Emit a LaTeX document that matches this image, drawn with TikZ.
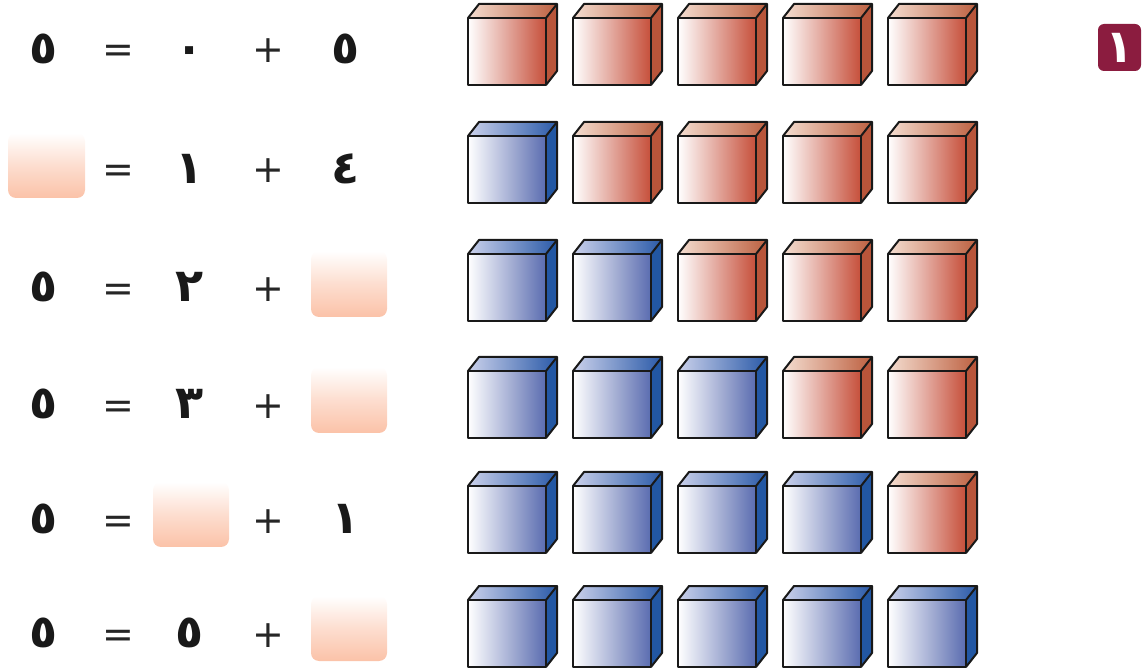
\documentclass[tikz,border=0pt]{standalone}
\usepackage{fontspec}
\newfontfamily\arabicfont[Script=Arabic]{DejaVu Sans}
\usetikzlibrary{positioning}

\definecolor{redfront}{HTML}{C64F3A}
\definecolor{redtopL}{HTML}{F4DDD0}
\definecolor{redtopR}{HTML}{BD6040}
\definecolor{redside}{HTML}{B8553A}
\definecolor{bluefront}{HTML}{5A6CB0}
\definecolor{bluetopL}{HTML}{CBD1EB}
\definecolor{bluetopR}{HTML}{2A5AA8}
\definecolor{blueside}{HTML}{2257A3}
\definecolor{peach}{HTML}{FBC2A8}
\definecolor{badgered}{HTML}{8B1C3F}

\tikzset{
  num/.style={font=\arabicfont\bfseries\fontsize{23}{27}\selectfont, text=black!90, anchor=base},
  op/.style={font=\arabicfont\fontsize{19}{22}\selectfont, text=black!85, anchor=base},
  blank/.style={rounded corners=4pt, top color=white, bottom color=peach, middle color=peach!55},
  edge/.style={line width=1pt, line join=round, black!90}
}

% cube: front-left x, front-top y, colour prefix
\newcommand{\cubeat}[3]{%
  \shade[left color=#3topL, right color=#3topR] (#1,#2) -- ++(11,-14) -- ++(78,0) -- ++(-11,14) -- cycle;
  \fill[#3side] (#1+78,#2) -- ++(11,-14) -- ++(0,67) -- ++(-11,14) -- cycle;
  \shade[left color=white, right color=#3front] (#1,#2) rectangle ++(78,67);
  \draw[edge] (#1,#2) rectangle ++(78,67);
  \draw[edge] (#1,#2) -- ++(11,-14) -- ++(78,0) -- ++(-11,14);
  \draw[edge] (#1+89,#2-14) -- ++(0,67) -- ++(-11,14);
}

\begin{document}
\begin{tikzpicture}[x=0.5pt,y=-0.5pt]
\useasboundingbox (0,0) rectangle (1142,668);

% Cubes
\foreach \ty/\nb in {18/0,136/1,254/2,371/3,486/4,600/5}{
  \foreach \c/\cx in {1/468,2/573,3/678,4/783,5/888}{
    \ifnum\c>\nb \def\col{red}\else\def\col{blue}\fi
    \cubeat{\cx}{\ty}{\col}
  }
}

% Row 1
\node[num] (a1) at (44,64) {٥};
\node[op] (e1) at (118,63) {=};
\node[num] (b1) at (190,64) {٠};
\node[op] (p1) at (268,63) {+};
\node[num] (c1) at (346,64) {٥};

% Row 2
\shade[blank] (8,133) rectangle (85,198);
\node (a2) at (46,165) {};
\node[op] (e2) at (118,183) {=};
\node[num] (b2) at (190,184) {١};
\node[op] (p2) at (268,183) {+};
\node[num] (c2) at (346,184) {٤};

% Row 3
\node[num] (a3) at (44,302) {٥};
\node[op] (e3) at (118,302) {=};
\node[num] (b3) at (190,302) {٢};
\node[op] (p3) at (268,302) {+};
\shade[blank] (311,251) rectangle (387,317);
\node (c3) at (349,284) {};

% Row 4
\node[num] (a4) at (44,419) {٥};
\node[op] (e4) at (118,419) {=};
\node[num] (b4) at (190,419) {٣};
\node[op] (p4) at (268,419) {+};
\shade[blank] (311,367) rectangle (387,433);
\node (c4) at (349,400) {};

% Row 5
\node[num] (a5) at (44,534) {٥};
\node[op] (e5) at (118,534) {=};
\shade[blank] (153,482) rectangle (229,547);
\node (b5) at (191,514) {};
\node[op] (p5) at (268,534) {+};
\node[num] (c5) at (346,534) {١};

% Row 6
\node[num] (a6) at (44,647) {٥};
\node[op] (e6) at (118,647) {=};
\node[num] (b6) at (190,647) {٥};
\node[op] (p6) at (268,647) {+};
\shade[blank] (311,596) rectangle (387,661);
\node (c6) at (349,628) {};

% Badge
\fill[badgered, rounded corners=3pt] (1098,24) rectangle (1141,71);
\node[num, text=white, anchor=center] (badge) at (1119.5,47.5) {١};
\end{tikzpicture}
\end{document}
